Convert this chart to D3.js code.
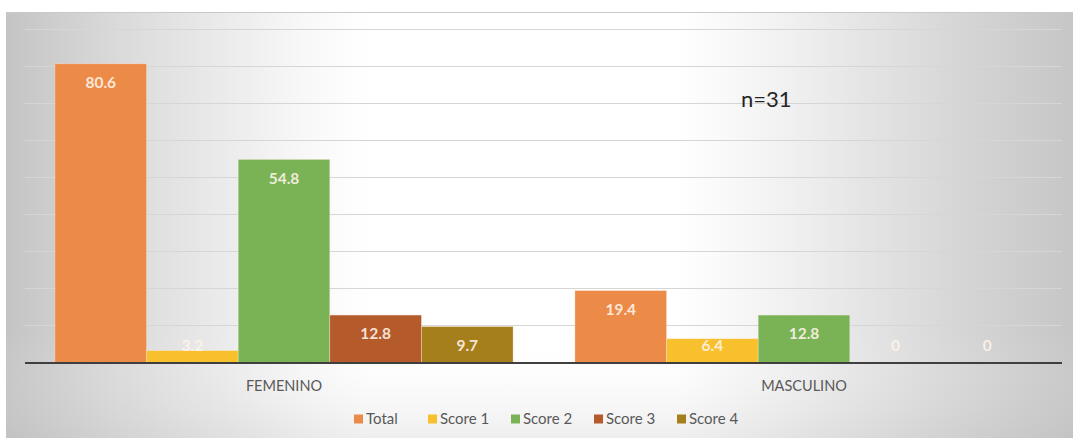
<!DOCTYPE html>
<html>
<head>
<meta charset="utf-8">
<script src="https://cdn.jsdelivr.net/npm/d3@7"></script>
<style>
  html, body { margin: 0; padding: 0; background: #fff; }
  svg { display: block; }
</style>
</head>
<body>
<svg id="chart" width="1073" height="438"></svg>
<script>
// Data
const categories = ["FEMENINO", "MASCULINO"];
const seriesNames = ["Total", "Score 1", "Score 2", "Score 3", "Score 4"];
const totalValues = [80.6, 19.4];
const score1Values = [3.2, 6.4];
const score2Values = [54.8, 12.8];
const score3Values = [12.8, 0];
const score4Values = [9.7, 0];
const yTicks = [0, 10, 20, 30, 40, 50, 60, 70, 80, 90];
const annotation = "n=31";

const seriesValues = [totalValues, score1Values, score2Values, score3Values, score4Values];
const colors = ["#ec8a47", "#f7c02c", "#79b356", "#b45a2b", "#a67f1d"];

const W = 1073, H = 438;
const FONT = "Lato, 'Open Sans', sans-serif";
const svg = d3.select("#chart");
const defs = svg.append("defs");

// Background panel: grey edges fading to white in the middle
const grad = defs.append("linearGradient").attr("id", "bg").attr("x1", "0").attr("x2", "1").attr("y1", "0").attr("y2", "0");
[[0, "#c4c4c4"], [0.1, "#d9d9d9"], [0.28, "#f8f8f8"], [0.34, "#ffffff"], [0.63, "#ffffff"], [0.73, "#f1f1f1"], [0.88, "#d8d8d8"], [1, "#c6c6c6"]]
  .forEach(([o, c]) => grad.append("stop").attr("offset", o).attr("stop-color", c));

const vgrad = defs.append("linearGradient").attr("id", "vshade").attr("x1", "0").attr("x2", "0").attr("y1", "0").attr("y2", "1");
[[0, "#ffffff", 0], [0.75, "#ffffff", 0], [1, "#bdbdbd", 0.25]]
  .forEach(([o, c, a]) => vgrad.append("stop").attr("offset", o).attr("stop-color", c).attr("stop-opacity", a));

svg.append("rect").attr("x", 6).attr("y", 12).attr("width", W - 6).attr("height", H - 12).attr("fill", "url(#bg)");
svg.append("rect").attr("x", 6).attr("y", 12).attr("width", W - 6).attr("height", H - 12).attr("fill", "url(#vshade)");
svg.append("line").attr("x1", 6).attr("x2", W).attr("y1", 12.5).attr("y2", 12.5).attr("stroke", "#c9c9c9").attr("stroke-width", 1);

// Scales
const plotLeft = 25, plotRight = 1062;
const y = d3.scaleLinear().domain([0, 90]).range([362.5, 29]);
const x0 = d3.scaleBand().domain(categories).range([24, 1064]).paddingInner(0.119).paddingOuter(0.0595);
const x1 = d3.scaleBand().domain(seriesNames).range([0, x0.bandwidth()]).padding(0);

// Gridlines
svg.append("g")
  .selectAll("line")
  .data(yTicks.filter(t => t > 0))
  .join("line")
  .attr("x1", plotLeft).attr("x2", plotRight)
  .attr("y1", d => Math.round(y(d)) + 0.5).attr("y2", d => Math.round(y(d)) + 0.5)
  .attr("stroke", "#d6d6d6").attr("stroke-width", 1.2);

// Bars
const groups = svg.append("g").selectAll("g")
  .data(categories)
  .join("g")
  .attr("transform", d => `translate(${x0(d)},0)`);

const cells = (c, ci) => seriesNames.map((s, si) => ({ s, si, v: seriesValues[si][ci] }));

groups.selectAll("rect")
  .data(cells)
  .join("rect")
  .attr("x", d => x1(d.s))
  .attr("width", x1.bandwidth())
  .attr("y", d => y(d.v))
  .attr("height", d => y(0) - y(d.v))
  .attr("fill", d => colors[d.si])
  .attr("stroke", "#fbe9d8").attr("stroke-width", 0.6).attr("stroke-opacity", 0.6);

// Value labels inside the bar tops (kept above the axis for short bars)
groups.selectAll("text")
  .data(cells)
  .join("text")
  .attr("x", d => x1(d.s) + x1.bandwidth() / 2)
  .attr("y", d => Math.min(y(d.v) + 19, 346))
  .attr("dy", "0.35em")
  .attr("text-anchor", "middle")
  .attr("font-family", FONT)
  .attr("font-weight", "bold")
  .attr("font-size", 15.5)
  .attr("fill", "#fff4ea")
  .attr("fill-opacity", 0.9)
  .text(d => d.v);

// Baseline
svg.append("line")
  .attr("x1", plotLeft).attr("x2", plotRight)
  .attr("y1", y(0) + 0.5).attr("y2", y(0) + 0.5)
  .attr("stroke", "#3f3f3f").attr("stroke-width", 2);

// Category axis labels
svg.append("g").selectAll("text")
  .data(categories)
  .join("text")
  .attr("x", d => x0(d) + x0.bandwidth() / 2)
  .attr("y", 386)
  .attr("dy", "0.35em")
  .attr("text-anchor", "middle")
  .attr("font-family", FONT)
  .attr("font-size", 14.5)
  .attr("fill", "#595959")
  .text(d => d);

// Annotation
svg.append("text")
  .attr("x", 741).attr("y", 99)
  .attr("dy", "0.35em")
  .attr("font-family", FONT)
  .attr("font-size", 22)
  .attr("fill", "#262626")
  .text(annotation);

// Legend
const legendX = [354, 428, 511, 594, 677];
const legend = svg.append("g").selectAll("g")
  .data(seriesNames)
  .join("g")
  .attr("transform", (d, i) => `translate(${legendX[i]},419)`);
legend.append("rect")
  .attr("x", 0).attr("y", -4.5).attr("width", 9).attr("height", 9)
  .attr("fill", (d, i) => colors[i]);
legend.append("text")
  .attr("x", 12).attr("y", 0).attr("dy", "0.35em")
  .attr("font-family", FONT)
  .attr("font-size", 15)
  .attr("fill", "#595959")
  .text(d => d);
</script>
</body>
</html>
